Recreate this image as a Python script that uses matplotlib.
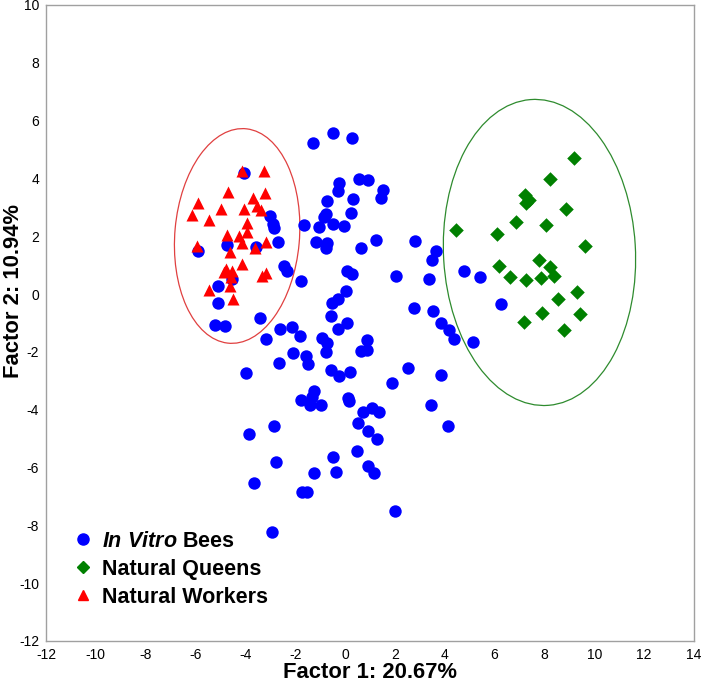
import matplotlib
matplotlib.use("Agg")
import matplotlib.pyplot as plt
from matplotlib.patches import Ellipse
from matplotlib.lines import Line2D

plt.rcParams['font.family'] = ['Liberation Sans', 'DejaVu Sans']
plt.rcParams['mathtext.fontset'] = 'custom'
plt.rcParams['mathtext.it'] = 'Liberation Sans:italic:bold'
plt.rcParams['mathtext.rm'] = 'Liberation Sans:bold'
plt.rcParams['axes.unicode_minus'] = False

# in vitro bees (factor 1, factor 2)
vitro_x = [-5.89, -0.47, 0.27, -1.30, -4.04, 0.57, 0.91, -0.24, 1.52, -0.29,
           1.43, -0.73, 0.33, 0.23, -0.76, -0.85, -3.00, -2.90, -2.85, -1.63,
           -1.04, -0.49, -0.04, -2.70, -1.18, -0.72, -0.75, 0.63, 1.23, 2.81,
           3.65, 3.50, -4.75, -3.57, -2.44, -2.32, 0.07, 0.29, 2.05, 3.36,
           -4.53, -5.10, -1.77, 0.03, -0.28, -0.52, -5.10, 2.76, 3.53, -0.57,
           -3.40, -5.23, -4.83, 0.08, -0.27, 3.84, 4.19, -2.61, -2.13, -1.81,
           -3.16, -0.91, -0.73, 0.88, 0.64, 0.88, -0.76, -2.07, -1.56, -2.66,
           -1.48, -3.98, -0.56, -0.25, 0.20, 2.52, 1.89, 3.84, -1.23, -1.32,
           -1.77, -1.39, -0.98, 0.12, 0.15, 0.71, 1.07, 1.35, 3.46, 4.15,
           -2.85, -3.85, 0.52, 0.91, 1.28, 0.47, -0.47, -2.77, 0.92, 1.15,
           -0.35, -1.26, -3.65, -1.71, -1.51, 2.01, -2.93, 4.79, 5.41, 6.26,
           4.36, 5.15]
vitro_y = [1.50, 5.58, 5.41, 5.21, 4.20, 3.98, 3.95, 3.85, 3.61, 3.57,
           3.33, 3.22, 3.28, 2.80, 2.76, 2.65, 2.69, 2.42, 2.27, 2.39,
           2.32, 2.41, 2.36, 1.79, 1.81, 1.76, 1.58, 1.59, 1.86, 1.84,
           1.50, 1.18, 1.71, 1.64, 0.97, 0.79, 0.79, 0.69, 0.62, 0.53,
           0.51, 0.28, 0.44, 0.11, -0.17, -0.32, -0.32, -0.49, -0.60, -0.76,
           -0.83, -1.08, -1.11, -1.01, -1.22, -1.01, -1.25, -1.22, -1.15, -1.45,
           -1.56, -1.51, -1.68, -1.58, -1.96, -1.95, -2.00, -2.03, -2.14, -2.38,
           -2.42, -2.73, -2.62, -2.85, -2.71, -2.57, -3.07, -2.79, -3.34, -3.57,
           -3.68, -3.82, -3.85, -3.61, -3.70, -4.07, -3.93, -4.09, -3.84, -4.56,
           -4.56, -4.83, -4.47, -4.74, -5.03, -5.43, -5.65, -5.81, -5.94, -6.18,
           -6.16, -6.20, -6.53, -6.86, -6.85, -7.52, -8.24, 0.81, 0.59, -0.35,
           -1.57, -1.67]

queen_x = [9.19, 8.22, 7.22, 7.39, 7.26, 8.85, 6.85, 8.06, 4.46, 6.11, 9.64, 7.78,
           6.18, 8.24, 8.37, 6.62, 7.27, 7.88, 9.31, 8.53, 7.92, 9.42, 7.19, 8.79]
queen_y = [4.70, 3.98, 3.43, 3.26, 3.14, 2.95, 2.49, 2.38, 2.22, 2.08, 1.66, 1.19,
           0.98, 0.95, 0.64, 0.58, 0.49, 0.55, 0.06, -0.16, -0.66, -0.70, -0.98, -1.24]

worker_x = [-4.15, -3.25, -4.68, -3.22, -5.89, -3.69, -4.98, -4.07, -3.54, -3.37,
            -6.13, -5.45, -3.92, -4.72, -4.27, -3.95, -4.15, -5.95, -3.18, -3.63,
            -4.62, -4.15, -4.78, -4.55, -4.86, -3.16, -3.32, -4.59, -4.62, -5.47, -4.51]
worker_y = [4.26, 4.27, 3.53, 3.51, 3.15, 3.33, 2.95, 2.94, 3.05, 2.91,
            2.73, 2.56, 2.45, 2.04, 2.01, 2.14, 1.76, 1.67, 1.79, 1.58,
            1.46, 1.04, 0.86, 0.81, 0.77, 0.73, 0.64, 0.60, 0.28, 0.14, -0.18]

# confidence ellipses: center x, center y, width, height, angle
worker_ell = (-4.33, 2.01, 5.0, 7.45, -6)
queen_ell = (7.80, 1.44, 7.7, 10.6, 4)

fig = plt.figure(figsize=(7.03, 6.83), dpi=100)
ax = fig.add_axes([0.0654, 0.0615, 0.9218, 0.9312])

ax.scatter(vitro_x, vitro_y, s=80, marker='o', color='#0000ff', linewidths=0, zorder=3)
ax.scatter(queen_x, queen_y, s=55, marker='D', color='#008000', linewidths=0, zorder=4)
ax.scatter(worker_x, worker_y, s=75, marker='^', color='#ff0000', linewidths=0, zorder=5)

for (cx, cy, w, h, a), col in [(worker_ell, '#e04040'), (queen_ell, '#2e8b2e')]:
    ax.add_patch(Ellipse((cx, cy), w, h, angle=a, fill=False, edgecolor=col, lw=0.9, zorder=2))

ax.set_xlim(-12, 14)
ax.set_ylim(-12, 10)
ax.set_xticks(range(-12, 15, 2))
ax.set_yticks(range(-12, 11, 2))
ax.tick_params(length=0, labelsize=10, pad=5)
for sp in ax.spines.values():
    sp.set_color('#a0a0a0')
    sp.set_linewidth(1)

ax.set_xlabel('Factor 1: 20.67%', fontsize=15.8, fontweight='bold', labelpad=0)
ax.set_ylabel('Factor 2: 10.94%', fontsize=15.8, fontweight='bold', va='center')
ax.yaxis.set_label_coords(-0.05, 0.55)

handles = [
    Line2D([], [], marker='o', color='#0000ff', ls='', markersize=8),
    Line2D([], [], marker='D', color='#008000', ls='', markersize=6),
    Line2D([], [], marker='^', color='#ff0000', ls='', markersize=7),
]
labels = [r'$\mathit{In\ Vitro}$ Bees', 'Natural Queens', 'Natural Workers']
ax.legend(handles, labels, loc='lower left', bbox_to_anchor=(0.01, 0.022),
          frameon=False, handlelength=1.0, handletextpad=0.4, labelspacing=0.32,
          prop={'size': 15.5, 'weight': 'bold'})

fig.savefig('out.png', dpi=100)
